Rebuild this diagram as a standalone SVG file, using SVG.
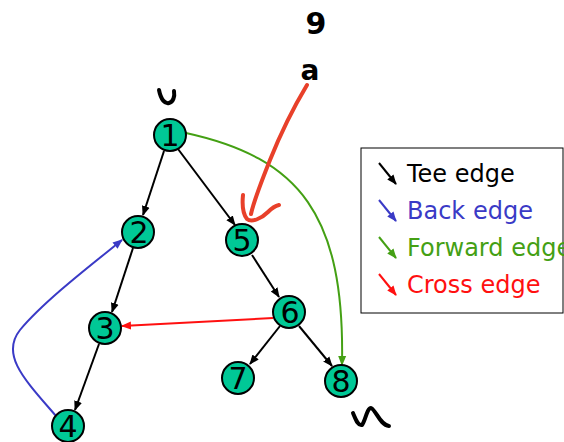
<svg xmlns="http://www.w3.org/2000/svg" width="564" height="442" viewBox="0 0 564 442">
<defs>
<style>
.node circle{fill:#00C896;stroke:#000;stroke-width:2}
.node text{font-family:"DejaVu Sans",sans-serif;font-size:30px;fill:#000;text-anchor:middle}
.e{fill:none;stroke-width:2}
.tree{stroke:#000}
.back{stroke:#3A3AC6}
.fwd{stroke:#44A014}
.cross{stroke:#FF1010}
.lg{font-family:"DejaVu Sans",sans-serif;font-size:24px}
.ink{fill:none;stroke-linecap:round;stroke-linejoin:round}
</style>
<marker id="aK" markerWidth="10" markerHeight="10" refX="9" refY="5" orient="auto" markerUnits="userSpaceOnUse"><path d="M0,1 L10,5 L0,9 Z" fill="#000"/></marker>
<marker id="aB" markerWidth="10" markerHeight="10" refX="9" refY="5" orient="auto" markerUnits="userSpaceOnUse"><path d="M0,1 L10,5 L0,9 Z" fill="#3A3AC6"/></marker>
<marker id="aG" markerWidth="10" markerHeight="10" refX="9" refY="5" orient="auto" markerUnits="userSpaceOnUse"><path d="M0,1 L10,5 L0,9 Z" fill="#44A014"/></marker>
<marker id="aR" markerWidth="10" markerHeight="10" refX="9" refY="5" orient="auto" markerUnits="userSpaceOnUse"><path d="M0,1 L10,5 L0,9 Z" fill="#FF1010"/></marker>
</defs>
<rect width="564" height="442" fill="#fff"/>
<g id="connectors">
<line class="e tree" x1="164" y1="151" x2="143" y2="215" marker-end="url(#aK)"/>
<line class="e tree" x1="178" y1="149" x2="235" y2="225" marker-end="url(#aK)"/>
<path class="e fwd" d="M186,133 C300,158 345,215 342,365" marker-end="url(#aG)"/>
<line class="e tree" x1="133" y1="248" x2="112" y2="312" marker-end="url(#aK)"/>
<line class="e tree" x1="99" y1="344" x2="75" y2="410" marker-end="url(#aK)"/>
<path class="e back" d="M56,416 C25,380 0,355 20,330 C45,300 95,262 122,240" marker-end="url(#aB)"/>
<line class="e tree" x1="252" y1="255" x2="279" y2="297" marker-end="url(#aK)"/>
<line class="e cross" x1="273" y1="318" x2="122" y2="326" marker-end="url(#aR)"/>
<line class="e tree" x1="280" y1="326" x2="250" y2="364" marker-end="url(#aK)"/>
<line class="e tree" x1="299" y1="326" x2="332" y2="366" marker-end="url(#aK)"/>
</g>
<g id="n1" class="node"><circle cx="170" cy="135" r="16"/><text x="170" y="146">1</text></g>
<g id="n2" class="node"><circle cx="138" cy="232" r="16"/><text x="139" y="243">2</text></g>
<g id="n3" class="node"><circle cx="105" cy="328" r="16"/><text x="105" y="339">3</text></g>
<g id="n4" class="node"><circle cx="68" cy="426" r="16"/><text x="68" y="437">4</text></g>
<g id="n5" class="node"><circle cx="242" cy="240" r="16"/><text x="242" y="251">5</text></g>
<g id="n6" class="node"><circle cx="289" cy="312" r="16"/><text x="290" y="323">6</text></g>
<g id="n7" class="node"><circle cx="238" cy="378" r="16"/><text x="238" y="389">7</text></g>
<g id="n8" class="node"><circle cx="341" cy="381" r="16"/><text x="341" y="392">8</text></g>
<g id="legend">
<rect x="361" y="148" width="202" height="165" fill="#fff" stroke="#000" stroke-width="1"/>
<line class="e tree" x1="379" y1="163" x2="396" y2="184" marker-end="url(#aK)"/>
<text class="lg" x="407" y="182" fill="#000">Tee edge</text>
<line class="e back" x1="379" y1="200" x2="396" y2="221" marker-end="url(#aB)"/>
<text class="lg" x="407" y="219" fill="#3A3AC6">Back edge</text>
<line class="e fwd" x1="379" y1="237" x2="396" y2="258" marker-end="url(#aG)"/>
<text class="lg" x="407" y="256" fill="#44A014">Forward edge</text>
<line class="e cross" x1="379" y1="274" x2="396" y2="295" marker-end="url(#aR)"/>
<text class="lg" x="407" y="293" fill="#FF1010">Cross edge</text>
</g>
<g id="annotations">
<path class="ink" stroke="#000" stroke-width="4" d="M159,90 C161,100 165,104 169,103 C173,102 175,97 174,91"/>
<text x="316" y="34" font-family="DejaVu Sans, sans-serif" font-size="30" font-weight="bold" text-anchor="middle" fill="#000">9</text>
<text x="310" y="80" font-family="DejaVu Sans, sans-serif" font-size="28" font-weight="bold" text-anchor="middle" fill="#000">a</text>
<path class="ink" stroke="#E8402A" stroke-width="4" d="M307,85 C295,105 280,135 270,160 C262,180 254,200 251,214"/>
<path class="ink" stroke="#E8402A" stroke-width="4" d="M243,195 C242,205 243,214 247,219 C252,223 262,218 268,212 C272,208 275,206 279,205"/>
<path class="ink" stroke="#000" stroke-width="4" d="M353,413 C356,420 358,426 362,425 C365,422 367,408 371,408 C376,410 380,425 389,426"/>
</g>
</svg>
